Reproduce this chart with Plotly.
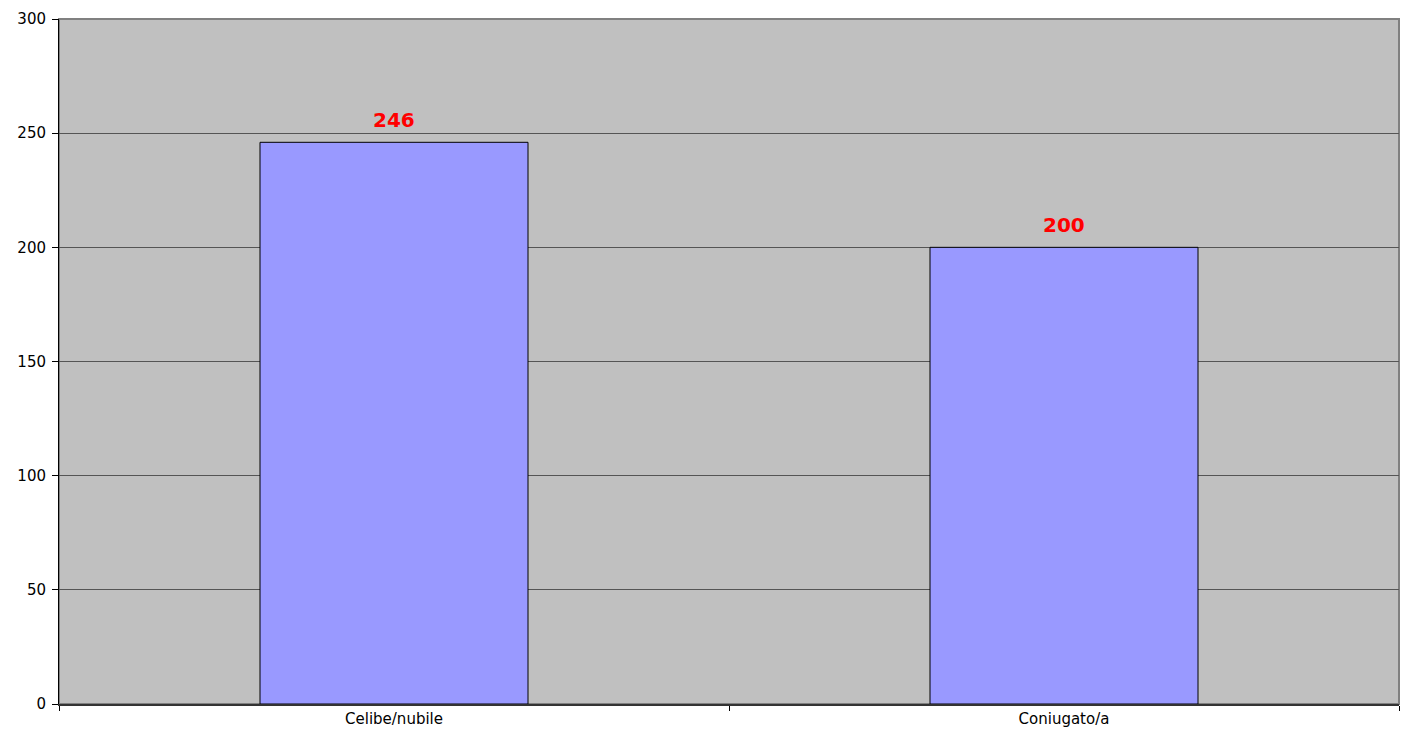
import plotly.graph_objects as go

categories = ["Celibe/nubile", "Coniugato/a"]
values = [246, 200]
y_ticks = [0, 50, 100, 150, 200, 250, 300]

fig = go.Figure()
fig.add_trace(go.Bar(
    x=categories,
    y=values,
    width=0.4,
    marker=dict(color="#9999ff", line=dict(color="#000000", width=1)),
    hoverinfo="x+y",
))

# red value labels above the bars
for cat, val in zip(categories, values):
    fig.add_annotation(
        x=cat, y=val, text="<b>%d</b>" % val,
        showarrow=False, yanchor="bottom", yshift=8,
        font=dict(color="#ff0000", size=20, family="DejaVu Sans, sans-serif"),
    )

fig.update_layout(
    width=1404,
    height=740,
    margin=dict(l=59, r=5, t=19, b=36),
    paper_bgcolor="white",
    plot_bgcolor="#c0c0c0",
    showlegend=False,
    bargap=0.6,
    font=dict(family="DejaVu Sans, sans-serif", size=15, color="#000000"),
)
fig.update_xaxes(
    showgrid=False,
    automargin=False,
    ticks="outside",
    tickson="boundaries",
    ticklen=5,
    tickcolor="#000000",
    showline=True,
    linecolor="#333333",
    linewidth=2,
    tickfont=dict(size=15),
)
fig.update_yaxes(
    range=[0, 300],
    tickvals=y_ticks,
    automargin=False,
    showgrid=True,
    gridcolor="#555555",
    gridwidth=1,
    ticks="outside",
    ticklen=6,
    tickcolor="#000000",
    ticklabelstandoff=3,
    showline=True,
    linecolor="#000000",
    linewidth=1,
    zeroline=False,
    tickfont=dict(size=15),
)
# border on top and right of plot area
fig.add_shape(type="rect", xref="paper", yref="paper", x0=0, y0=0, x1=1, y1=1,
              line=dict(color="#808080", width=2), fillcolor="rgba(0,0,0,0)", layer="below")

fig.write_html(
    "out.html",
    config={"displayModeBar": False},
    post_script="document.body.style.margin='0';document.body.style.overflow='hidden';",
)
